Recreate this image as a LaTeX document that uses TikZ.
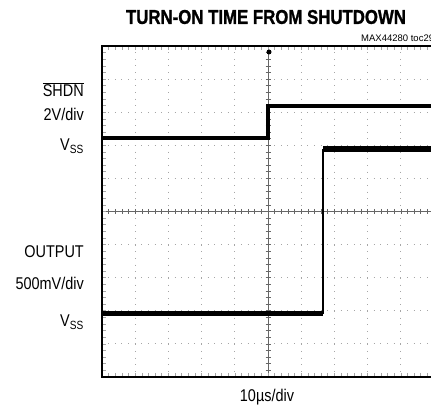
\documentclass[tikz,border=0pt]{standalone}
\usepackage{fontspec}
\setmainfont[FakeStretch=0.85]{Liberation Sans}
\newfontfamily\titlefont[FakeStretch=0.84,FakeBold=1.2]{Liberation Sans}
\newfontfamily\tocfont{Liberation Sans}
\tikzset{
  scopelabel/.style={anchor=east,inner sep=0pt,font=\fontsize{17}{20}\selectfont},
  griddot/.style={gray!70,line width=0.9pt,dash pattern=on 1pt off 5.64pt,dash phase=0.5pt},
  trace/.style={black,line width=4.5pt},
}
\begin{document}
\begin{tikzpicture}[x=1pt,y=-1pt]
        \path[use as bounding box] (0,0) rectangle (431,411);
        \clip (0,0) rectangle (431,411);

        \node[inner sep=0pt,font=\titlefont\bfseries\fontsize{20}{22}\selectfont] (title) at (266,17) {TURN-ON TIME FROM SHUTDOWN};
        \node[anchor=west,inner sep=0pt,font=\tocfont\fontsize{9.5}{11}\selectfont] (toc) at (361,38) {MAX44280 toc29};

        \foreach \i in {1,2,3,4,6,7,8,9} {
          \draw[griddot] (102+33.2*\i,46) -- (102+33.2*\i,377);
          \draw[griddot] (102,46+33.1*\i) -- (434,46+33.1*\i);
        }
        \draw[gray!80!black,line width=0.8pt] (268,46) -- (268,377);
        \draw[gray!80!black,line width=0.8pt] (102,211.5) -- (434,211.5);
        \foreach \k in {1,...,49} {
          \draw[gray!80!black,line width=0.6pt] (265.5,46+6.62*\k) -- (270.5,46+6.62*\k);
          \draw[gray!80!black,line width=0.6pt] (102+6.64*\k,209) -- (102+6.64*\k,214);
          \draw[gray!70,line width=0.6pt] (102,46+6.62*\k) -- (106,46+6.62*\k);
          \draw[gray!70,line width=0.6pt] (102+6.64*\k,46) -- (102+6.64*\k,50);
          \draw[gray!70,line width=0.6pt] (102+6.64*\k,373) -- (102+6.64*\k,377);
        }
        \draw[black,line width=2.5pt] (434,377) -- (102,377) -- (102,46) -- (434,46);

        \draw[trace,line width=4pt] (102,138) -- (268,138) -- (268,106) -- (434,106);
        \draw[trace,line width=1.2pt] (268,138) -- (268,106);
        \draw[trace,line width=5pt] (102,314) -- (323,314);
        \draw[trace,line width=1.2pt] (323,314) -- (323,149);
        \draw[trace,line width=6.5pt] (323,149) -- (434,149);
        \fill[black] (269,52) circle (2.5);

        \node[scopelabel] (shdn) at (84,90) {$\overline{\mbox{SHDN}}$};
        \node[scopelabel] (shdndiv) at (84,114) {2V/div};
        \node[scopelabel] (vssa) at (84,146) {V\textsubscript{SS}};
        \node[scopelabel] (out) at (84,252) {OUTPUT};
        \node[scopelabel] (outdiv) at (84,283) {500mV/div};
        \node[scopelabel] (vssb) at (84,322) {V\textsubscript{SS}};
        \node[inner sep=0pt,font=\fontsize{17}{20}\selectfont] (time) at (267,397) {10µs/div};
\end{tikzpicture}
\end{document}
